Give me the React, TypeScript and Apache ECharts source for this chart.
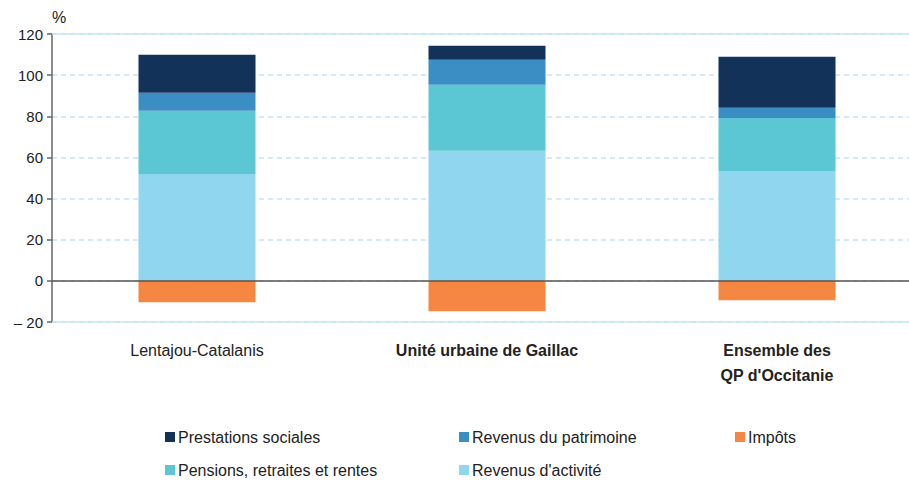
import React, { useEffect, useRef } from "react";
import * as echarts from "echarts";

const categories = ["Lentajou-Catalanis", "Unité urbaine de Gaillac", "Ensemble des\nQP d'Occitanie"];
const revenusActivite = [52.0, 63.2, 53.4];
const pensions = [30.7, 32.1, 25.8];
const patrimoine = [8.7, 12.2, 4.9];
const prestations = [18.5, 6.8, 24.9];
const impots = [-10.4, -14.8, -9.4];

const FONT = "'Liberation Sans', Arial, Helvetica, sans-serif";

export default function App() {
  const ref = useRef<HTMLDivElement>(null);
  useEffect(() => {
    if (!ref.current) return;
    const chart = echarts.init(ref.current, undefined, { renderer: "svg" });
    const legendItem = (name: string, left: number, top: number) => ({
      data: [name],
      left,
      top,
      icon: "rect",
      itemWidth: 10,
      itemHeight: 10,
      itemGap: 0,
      textStyle: { fontFamily: FONT, fontSize: 16, color: "#222", padding: [0, 0, 0, -2] },
    });
    chart.setOption({
      animation: false,
      grid: { left: 52, right: 0, top: 34, bottom: 158 },
      textStyle: { fontFamily: FONT },
      graphic: [
        { type: "text", left: 52, top: 9, style: { text: "%", fontFamily: FONT, fontSize: 16, fill: "#222" } },
      ],
      legend: [
        legendItem("Prestations sociales", 160, 424),
        legendItem("Revenus du patrimoine", 454, 424),
        legendItem("Impôts", 730, 424),
        legendItem("Pensions, retraites et rentes", 160, 457),
        legendItem("Revenus d'activité", 454, 457),
      ],
      xAxis: {
        type: "category",
        data: categories,
        axisLine: { show: false },
        axisTick: { show: false },
        axisLabel: {
          margin: 16,
          interval: 0,
          formatter: (v: string, i: number) =>
            i === 0 ? `{n|${v}}` : v.split("\n").map((s) => `{b|${s}}`).join("\n"),
          rich: {
            n: { fontFamily: FONT, fontSize: 16, color: "#222", lineHeight: 25 },
            b: { fontFamily: FONT, fontSize: 16, fontWeight: "bold", color: "#222", lineHeight: 25 },
          },
        },
      },
      yAxis: {
        type: "value",
        min: -20,
        max: 120,
        interval: 20,
        axisLine: { show: true, lineStyle: { color: "#666", width: 1.5 } },
        axisTick: { show: true, length: 5, lineStyle: { color: "#666", width: 1.5 } },
        axisLabel: {
          margin: 9,
          fontFamily: FONT,
          fontSize: 15,
          color: "#222",
          formatter: (v: number) => (v < 0 ? "– " + Math.abs(v) : String(v)),
        },
        splitLine: { show: true, lineStyle: { color: "#c6e4f7", type: [5, 4], width: 1.5 } },
      },
      series: [
        { name: "Revenus d'activité", type: "bar", stack: "a", barWidth: 117, data: revenusActivite, itemStyle: { color: "#8fd6ee" } },
        { name: "Pensions, retraites et rentes", type: "bar", stack: "a", data: pensions, itemStyle: { color: "#5bc7d4" } },
        { name: "Revenus du patrimoine", type: "bar", stack: "a", data: patrimoine, itemStyle: { color: "#3a8ec4" } },
        { name: "Prestations sociales", type: "bar", stack: "a", data: prestations, itemStyle: { color: "#12325a" } },
        {
          name: "Impôts",
          type: "bar",
          stack: "a",
          data: impots,
          itemStyle: { color: "#f58742" },
          markLine: {
            silent: true,
            symbol: "none",
            label: { show: false },
            data: [
              { yAxis: 0, lineStyle: { color: "#555", width: 1.5, type: "solid" } },
              { yAxis: -20, lineStyle: { color: "#c6e4f7", width: 1.5, type: "solid" } },
              { yAxis: 120, lineStyle: { color: "#c6e4f7", width: 1.5, type: "solid" } },
            ],
          },
        },
      ],
    });
    return () => chart.dispose();
  }, []);
  return (
    <div style={{ position: "fixed", left: 0, top: 0, width: 909, height: 480, overflow: "hidden", background: "#fff" }}>
      <div ref={ref} style={{ width: 922, height: 480 }} />
    </div>
  );
}
